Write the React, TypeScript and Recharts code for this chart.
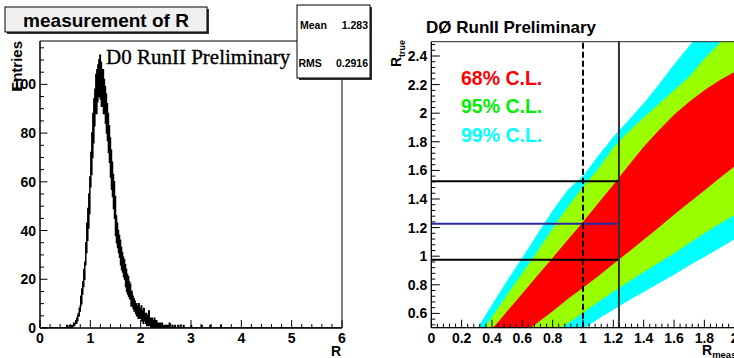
import React from 'react';
import { ComposedChart, Line, Area, XAxis, YAxis, ReferenceLine, ReferenceArea } from 'recharts';

// ---------- Left panel: histogram of R ----------
const histBinWidth = 0.01;
const histMainStart = 0.5;
const histMainCounts = [
  0, 0, 0, 1, 0, 0, 0, 0, 1, 0,
  0, 0, 0, 1, 0, 1, 1, 2, 1, 2,
  2, 3, 2, 4, 3, 5, 6, 5, 8, 7,
  9, 13, 10, 16, 14, 19, 17, 24, 20, 27,
  26, 35, 31, 43, 36, 49, 41, 55, 47, 62,
  58, 72, 63, 80, 70, 88, 76, 94, 83, 98,
  90, 104, 88, 106, 93, 108, 95, 110, 97, 112,
  94, 109, 91, 105, 96, 106, 88, 102, 92, 99,
  84, 96, 80, 92, 77, 88, 72, 83, 68, 78,
  62, 73, 57, 68, 54, 63, 49, 60, 45, 54,
  38, 46, 35, 43, 33, 40, 31, 38, 29, 36,
  26, 33, 24, 31, 23, 29, 21, 28, 20, 26,
  17, 24, 15, 22, 14, 21, 13, 19, 12, 18,
  14, 9, 15, 10, 13, 8, 12, 7, 11, 8,
  6, 10, 5, 9, 7, 4, 10, 6, 4, 8,
  5, 9, 3, 7, 4, 2, 8, 3, 5, 6,
  2, 6, 1, 5, 3, 1, 7, 2, 1, 4,
  3, 0, 4, 1, 3, 0, 2, 4, 0, 2,
  1, 3, 0, 2, 0, 2, 0, 1, 2, 0,
  1, 0, 2, 0, 1, 0, 1, 0, 0, 1,
  0, 1, 0, 0, 1, 0, 0, 2, 0, 0,
];
const histTailBins: [number, number][] = [
  [2.63, 1], [2.68, 1], [2.74, 1], [2.79, 1], [2.85, 1], [3.0, 1], [3.21, 1], [3.38, 1], [3.59, 1],
];
const histXMajor = [0, 1, 2, 3, 4, 5, 6];
const histYMajor = [0, 20, 40, 60, 80, 100];
const histYMax = 117.8;

// ---------- Right panel: confidence belts ----------
const bandX = [0.2, 0.3, 0.4, 0.5, 0.6, 0.7, 0.8, 0.9, 1.0, 1.1, 1.2, 1.3, 1.4, 1.5, 1.6, 1.7, 1.8, 1.9, 2.0];
const cyanHigh = [0.32, 0.49, 0.66, 0.83, 0.99, 1.155, 1.32, 1.465, 1.56, 1.7, 1.835, 1.95, 2.07, 2.2, 2.34, 2.47, 2.6, 2.72, 2.85];
const greenHigh = [0.27, 0.42, 0.575, 0.73, 0.88, 1.035, 1.195, 1.345, 1.485, 1.61, 1.76, 1.87, 1.97, 2.065, 2.16, 2.255, 2.38, 2.49, 2.61];
const redHigh = [0.235, 0.36, 0.49, 0.615, 0.74, 0.865, 0.99, 1.115, 1.24, 1.37, 1.5, 1.635, 1.765, 1.88, 1.99, 2.08, 2.16, 2.23, 2.29];
const redLow = [0.125, 0.21, 0.29, 0.37, 0.455, 0.535, 0.615, 0.7, 0.78, 0.86, 0.945, 1.03, 1.115, 1.2, 1.29, 1.375, 1.46, 1.545, 1.63];
const greenLow = [0.02, 0.095, 0.17, 0.24, 0.315, 0.39, 0.46, 0.53, 0.605, 0.68, 0.752, 0.82, 0.89, 0.955, 1.02, 1.09, 1.16, 1.225, 1.29];
const cyanLow = [-0.04, 0.025, 0.09, 0.155, 0.225, 0.29, 0.36, 0.425, 0.49, 0.56, 0.625, 0.69, 0.75, 0.81, 0.87, 0.935, 0.995, 1.055, 1.12];

const rMeasured = 1.237;
const rReference = 1.0;
const rTrueLower = 0.975;
const rTrueCentral = 1.227;
const rTrueUpper = 1.524;

const beltXMajor = [0, 0.2, 0.4, 0.6, 0.8, 1, 1.2, 1.4, 1.6, 1.8, 2];
const beltYMajor = [0.6, 0.8, 1, 1.2, 1.4, 1.6, 1.8, 2, 2.2, 2.4];

const statsMean = '1.283';
const statsRms = '0.2916';

// ---------- derived tables ----------
const histData = (() => {
  const n = Math.round(6 / histBinWidth);
  const arr: { x: number; y: number }[] = [];
  for (let i = 0; i <= n; i++) arr.push({ x: +(i * histBinWidth).toFixed(2), y: 0 });
  const off = Math.round(histMainStart / histBinWidth);
  histMainCounts.forEach((c, k) => { arr[off + k].y = c; });
  histTailBins.forEach(([x, c]) => { arr[Math.round(x / histBinWidth)].y = c; });
  return arr;
})();

const bandData = bandX.map((x, i) => ({
  x,
  cyan: [cyanLow[i], cyanHigh[i]],
  green: [greenLow[i], greenHigh[i]],
  red: [redLow[i], redHigh[i]],
}));

const withMinor = (majors: number[], sub: number, lo: number, hi: number) => {
  const step = (majors[1] - majors[0]) / sub;
  const out: number[] = [];
  const start = Math.ceil((lo - 1e-9) / step);
  for (let k = start; k * step <= hi + 1e-9; k++) out.push(+(k * step).toFixed(4));
  return out;
};

const FONT = "'Liberation Sans', Arial, Helvetica, sans-serif";

const isMajor = (majors: number[], v: number) => majors.some((m) => Math.abs(m - v) < 1e-6);

const makeXTick = (majors: number[], majorLen: number, minorLen: number) => (props: any) => {
  const { x, y, payload } = props;
  const v = payload.value;
  const maj = isMajor(majors, v);
  return (
    <g>
      <line x1={x} x2={x} y1={y} y2={y - (maj ? majorLen : minorLen)} stroke="#000" strokeWidth={1} />
      {maj && (
        <text x={x} y={y + 15} textAnchor="middle" fontFamily={FONT} fontWeight="bold" fontSize={14} fill="#000">
          {String(+v.toFixed(2))}
        </text>
      )}
    </g>
  );
};

const makeYTick = (majors: number[], majorLen: number, minorLen: number) => (props: any) => {
  const { x, y, payload } = props;
  const v = payload.value;
  const maj = isMajor(majors, v);
  return (
    <g>
      <line x1={x} x2={x + (maj ? majorLen : minorLen)} y1={y} y2={y} stroke="#000" strokeWidth={1} />
      {maj && (
        <text x={x - 4} y={y + 5} textAnchor="end" fontFamily={FONT} fontWeight="bold" fontSize={14} fill="#000">
          {String(+v.toFixed(2))}
        </text>
      )}
    </g>
  );
};

const histXTicks = withMinor(histXMajor, 5, 0, 6);
const histYTicks = withMinor(histYMajor, 4, 0, histYMax);
const beltXTicks = withMinor(beltXMajor, 5, 0, 2);
const beltYTicks = withMinor(beltYMajor, 5, 0.5, 2.5);

export default function App() {
  return (
    <div style={{ position: 'absolute', left: 0, top: 0, width: 734, height: 358, overflow: 'hidden', background: '#fff' }}>
      <div style={{ position: 'absolute', left: 0, top: 0 }}>
        <ComposedChart width={367} height={358} data={histData} margin={{ top: 41, right: 25, bottom: 10, left: 10 }}>
          <XAxis dataKey="x" type="number" domain={[0, 6]} allowDataOverflow ticks={histXTicks} interval={0}
            tickSize={0} tickMargin={0} tickLine={false} axisLine={{ stroke: '#000' }} height={20}
            tick={makeXTick(histXMajor, 8, 4)} />
          <YAxis type="number" domain={[0, histYMax]} allowDataOverflow ticks={histYTicks} interval={0}
            tickSize={0} tickMargin={0} tickLine={false} axisLine={{ stroke: '#000' }} width={30}
            tick={makeYTick(histYMajor, 7.5, 4)} />
          <Line type="stepAfter" dataKey="y" stroke="#000" strokeWidth={1.5} dot={false} isAnimationActive={false} />
          <ReferenceArea x1={0} x2={6} y1={0} y2={histYMax} fill="none" stroke="#000" strokeWidth={1} fillOpacity={0} />
        </ComposedChart>
      </div>
      <div style={{ position: 'absolute', left: 367, top: 0 }}>
        <ComposedChart width={420} height={358} data={bandData} margin={{ top: 41.7, right: 52.3, bottom: 10.3, left: 4.3 }}>
          <XAxis dataKey="x" type="number" domain={[0, 2]} allowDataOverflow ticks={beltXTicks} interval={0}
            tickSize={0} tickMargin={0} tickLine={false} axisLine={{ stroke: '#000' }} height={20}
            tick={makeXTick(beltXMajor, 8, 4)} />
          <YAxis type="number" domain={[0.5, 2.5]} allowDataOverflow ticks={beltYTicks} interval={0}
            tickSize={0} tickMargin={0} tickLine={false} axisLine={{ stroke: '#000' }} width={60}
            tick={makeYTick(beltYMajor, 8.5, 4)} />
          <Area type="linear" dataKey="cyan" fill="#00ffff" fillOpacity={1} stroke="none" isAnimationActive={false} />
          <Area type="linear" dataKey="green" fill="#99ff00" fillOpacity={1} stroke="none" isAnimationActive={false} />
          <Area type="linear" dataKey="red" fill="#ff0000" fillOpacity={1} stroke="none" isAnimationActive={false} />
          <ReferenceLine segment={[{ x: 0, y: rTrueUpper }, { x: rMeasured, y: rTrueUpper }]} stroke="#000" strokeWidth={2} />
          <ReferenceLine segment={[{ x: 0, y: rTrueCentral }, { x: rMeasured, y: rTrueCentral }]} stroke="#2828a8" strokeWidth={2} />
          <ReferenceLine segment={[{ x: 0, y: rTrueLower }, { x: rMeasured, y: rTrueLower }]} stroke="#000" strokeWidth={2} />
          <ReferenceLine x={rReference} stroke="#000" strokeWidth={2} strokeDasharray="6 3" />
          <ReferenceLine x={rMeasured} stroke="#333" strokeWidth={2} />
          <ReferenceArea x1={0} x2={2} y1={0.5} y2={2.5} fill="none" stroke="#222" strokeWidth={1} fillOpacity={0} />
        </ComposedChart>
      </div>
      <svg width={734} height={358} style={{ position: 'absolute', left: 0, top: 0, pointerEvents: 'none' }}>
        {/* title box */}
        <rect x={7} y={9} width={202} height={25} fill="#333" />
        <rect x={5} y={7} width={202} height={25} fill="#f0f0f0" stroke="#000" strokeWidth={1} />
        <text x={106} y={26.5} textAnchor="middle" fontFamily={FONT} fontWeight="bold" fontSize={19} fill="#000">measurement of R</text>
        {/* stats box */}
        <rect x={299} y={7} width={73} height={73} fill="#333" />
        <rect x={297} y={5} width={73} height={73} fill="#fff" stroke="#000" strokeWidth={1} />
        <text x={300} y={29} fontFamily={FONT} fontWeight="bold" fontSize={10.5}>Mean</text>
        <text x={368} y={29} textAnchor="end" fontFamily={FONT} fontWeight="bold" fontSize={10.5}>{statsMean}</text>
        <text x={298.5} y={66.5} fontFamily={FONT} fontWeight="bold" fontSize={10.5}>RMS</text>
        <text x={368} y={66.5} textAnchor="end" fontFamily={FONT} fontWeight="bold" fontSize={10.5}>{statsRms}</text>
        {/* left labels */}
        <text x={106} y={64} fontFamily="'Liberation Serif', 'Times New Roman', serif" fontSize={21} fill="#000" stroke="#000" strokeWidth={0.35}>D0 RunII Preliminary</text>
        <text transform="translate(21.5,41) rotate(-90)" textAnchor="end" fontFamily={FONT} fontWeight="bold" fontSize={15}>Entries</text>
        <text x={341} y={356} textAnchor="end" fontFamily={FONT} fontWeight="bold" fontSize={14}>R</text>
        {/* right labels */}
        <text x={426} y={33} fontFamily={FONT} fontWeight="bold" fontSize={17} fill="#000">DØ RunII Preliminary</text>
        <text x={461} y={85} fontFamily={FONT} fontWeight="bold" fontSize={19.5} fill="#ff0000">68% C.L.</text>
        <text x={461} y={113.3} fontFamily={FONT} fontWeight="bold" fontSize={19.5} fill="#00ee00">95% C.L.</text>
        <text x={461} y={141.6} fontFamily={FONT} fontWeight="bold" fontSize={19.5} fill="#00ffff">99% C.L.</text>
        <text transform="translate(400.5,67) rotate(-90)" fontFamily={FONT} fontWeight="bold" fontSize={14}>
          R<tspan fontSize={9} dy={4}>true</tspan>
        </text>
        <text x={702} y={355} fontFamily={FONT} fontWeight="bold" fontSize={14}>
          R<tspan fontSize={9.5} dy={3}>meas</tspan>
        </text>
      </svg>
    </div>
  );
}
